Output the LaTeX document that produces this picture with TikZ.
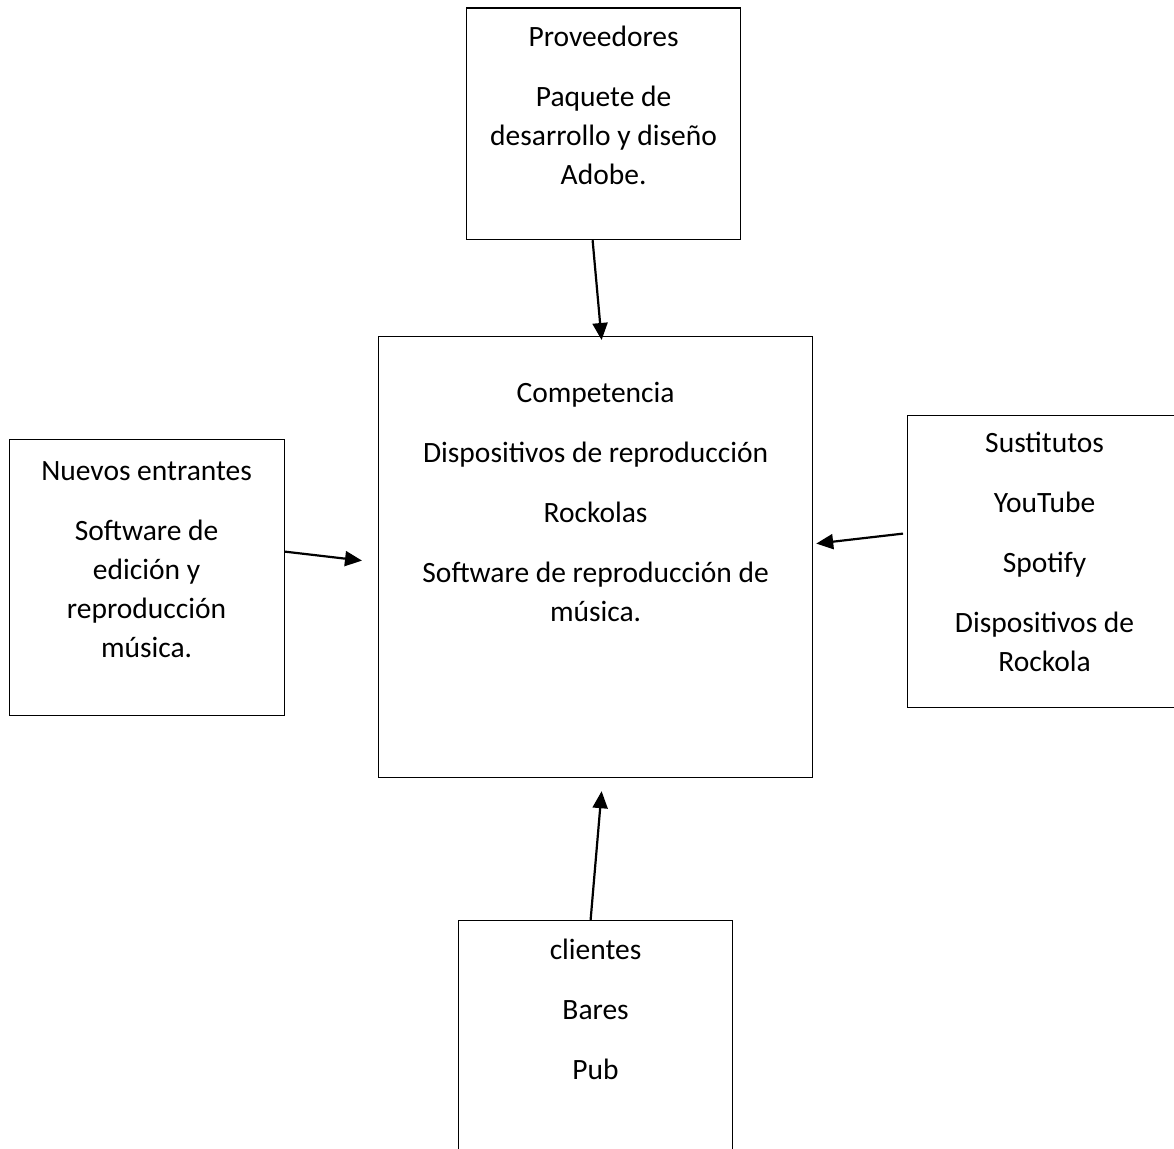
\documentclass[tikz,border=0pt]{standalone}
\usepackage{fontspec}
\setmainfont{Carlito}
\usetikzlibrary{arrows.meta}
\begin{document}
\begin{tikzpicture}[x=1pt,y=-1pt,
  box/.style={draw=black, line width=1.2pt, inner sep=0pt, anchor=north west},
  txt/.style={align=center, inner sep=0pt, anchor=north, font=\fontsize{29.5}{39}\selectfont},
  arr/.style={line width=2.2pt, -{Triangle[length=17pt,width=15pt]}}]
\clip (0,0) rectangle (1174,1148);
% boxes
\node[box, minimum width=274pt, minimum height=231.5pt] (prov) at (466,7.5) {};
\node[box, minimum width=434pt, minimum height=441pt] (comp) at (378,336) {};
\node[box, minimum width=275pt, minimum height=276pt] (nuev) at (8.5,439) {};
\node[box, minimum width=274pt, minimum height=292pt] (sust) at (907,415) {};
\node[box, minimum width=274pt, minimum height=260pt] (cli) at (458,920) {};
% texts
\node[txt] (provt) at ([yshift=-18pt]prov.north) {Proveedores\\[21pt]Paquete de\\desarrollo y diseño\\Adobe.};
\node[txt] (compt) at ([yshift=-45.5pt]comp.north) {Competencia\\[21pt]Dispositivos de reproducción\\[21pt]Rockolas\\[21pt]Software de reproducción de\\música.};
\node[txt] (nuevt) at ([yshift=-22.5pt]nuev.north) {Nuevos entrantes\\[21pt]Software de\\edición y\\reproducción\\música.};
\node[txt] (sustt) at ([yshift=-16.5pt]sust.north) {Sustitutos\\[21pt]YouTube\\[21pt]Spotify\\[21pt]Dispositivos de\\Rockola};
\node[txt] (clit) at ([yshift=-18.5pt]cli.north) {clientes\\[21pt]Bares\\[21pt]Pub};
% arrows
\draw[arr] ([xshift=-11pt]prov.south) -- ([xshift=6pt,yshift=-4pt]comp.north);
\draw[arr] ([yshift=26pt]nuev.east) -- ([xshift=-16pt,yshift=-3.5pt]comp.west);
\draw[arr] ([xshift=-4pt,yshift=28pt]sust.west) -- ([xshift=3pt,yshift=13.5pt]comp.east);
\draw[arr] ([xshift=-5pt]cli.north) -- ([xshift=6pt,yshift=-13pt]comp.south);
\end{tikzpicture}
\end{document}
